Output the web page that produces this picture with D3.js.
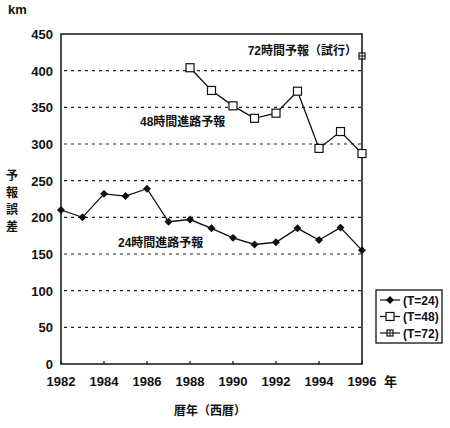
<!DOCTYPE html>
<html lang="ja">
<head>
<meta charset="utf-8">
<title>予報誤差</title>
<script src="https://cdn.jsdelivr.net/npm/d3@7"></script>
<style>
  body { margin: 0; background: #fff; }
  text { font-family: "Liberation Sans", "Noto Sans CJK JP", sans-serif; fill: #111; }
  .tick-label { font-size: 13px; font-weight: bold; }
  .note { font-size: 12px; font-weight: bold; }
  .grid { stroke: #222; stroke-width: 1.2; stroke-dasharray: 3,4; }
</style>
</head>
<body>
<div id="chart"></div>
<script>
var years = d3.range(1982, 1997);
var t24 = [210, 200, 232, 229, 239, 194, 197, 185, 172, 163, 166, 185, 169, 186, 155];
var years48 = d3.range(1988, 1997);
var t48 = [404, 373, 352, 335, 342, 372, 294, 317, 287];
var years72 = [1996];
var t72 = [420];
var yTicks = [0, 50, 100, 150, 200, 250, 300, 350, 400, 450];
var xTicks = [1982, 1984, 1986, 1988, 1990, 1992, 1994, 1996];
var legendLabels = ["(T=24)", "(T=48)", "(T=72)"];

var width = 450, height = 428;
var margin = {left: 61, right: 88, top: 34, bottom: 64};

var svg = d3.select("#chart").append("svg")
    .attr("width", width)
    .attr("height", height);

var x = d3.scaleLinear().domain([1982, 1996]).range([margin.left, width - margin.right]);
var y = d3.scaleLinear().domain([0, 450]).range([height - margin.bottom, margin.top]);

// dashed grid
svg.selectAll(".grid")
  .data(yTicks.filter(function(d) { return d > 0 && d < 450; }))
  .enter().append("line")
    .attr("class", "grid")
    .attr("x1", x(1982) + 3).attr("x2", x(1996))
    .attr("y1", function(d) { return y(d); })
    .attr("y2", function(d) { return y(d); });

// frame
svg.append("rect")
    .attr("x", x(1982)).attr("y", y(450))
    .attr("width", x(1996) - x(1982)).attr("height", y(0) - y(450))
    .attr("fill", "none").attr("stroke", "#111").attr("stroke-width", 1.5);

// x ticks (inward)
svg.selectAll(".xtick")
  .data(xTicks)
  .enter().append("line")
    .attr("x1", function(d) { return x(d); }).attr("x2", function(d) { return x(d); })
    .attr("y1", y(0)).attr("y2", y(0) - 3)
    .attr("stroke", "#111").attr("stroke-width", 1.2);

svg.selectAll(".xlab")
  .data(xTicks)
  .enter().append("text")
    .attr("class", "tick-label")
    .attr("x", function(d) { return x(d); })
    .attr("y", y(0) + 22)
    .attr("text-anchor", "middle")
    .text(function(d) { return d; });

svg.append("text").attr("class", "tick-label")
    .attr("x", x(1996) + 22).attr("y", y(0) + 22)
    .text("年");

svg.selectAll(".ylab")
  .data(yTicks)
  .enter().append("text")
    .attr("class", "tick-label")
    .attr("x", 53)
    .attr("y", function(d) { return y(d) + 5; })
    .attr("text-anchor", "end")
    .text(function(d) { return d; });

svg.append("text").attr("class", "tick-label")
    .attr("x", 8).attr("y", 14).text("km");

// vertical y title
var ytitle = "予報誤差".split("");
svg.selectAll(".ytitle")
  .data(ytitle)
  .enter().append("text")
    .attr("class", "note")
    .attr("x", 12)
    .attr("y", function(d, i) { return 180 + i * 17; })
    .attr("text-anchor", "middle")
    .text(function(d) { return d; });

svg.append("text").attr("class", "note")
    .attr("x", 210).attr("y", 415)
    .attr("text-anchor", "middle")
    .text("暦年（西暦）");

var line = d3.line()
    .x(function(d) { return x(d[0]); })
    .y(function(d) { return y(d[1]); });

var s24 = years.map(function(d, i) { return [d, t24[i]]; });
var s48 = years48.map(function(d, i) { return [d, t48[i]]; });
var s72 = years72.map(function(d, i) { return [d, t72[i]]; });

svg.append("path").datum(s24).attr("d", line)
    .attr("fill", "none").attr("stroke", "#111").attr("stroke-width", 1.3);
svg.append("path").datum(s48).attr("d", line)
    .attr("fill", "none").attr("stroke", "#111").attr("stroke-width", 1.3);

function diamond(g, cx, cy) {
  g.append("path")
    .attr("d", d3.symbol().type(d3.symbolDiamond2).size(40)())
    .attr("transform", "translate(" + cx + "," + cy + ")")
    .attr("fill", "#111");
}
function square(g, cx, cy) {
  g.append("rect")
    .attr("x", cx - 4).attr("y", cy - 4)
    .attr("width", 8).attr("height", 8)
    .attr("fill", "#fff").attr("stroke", "#111").attr("stroke-width", 1.2);
}
function crossSquare(g, cx, cy) {
  g.append("rect")
    .attr("x", cx - 3).attr("y", cy - 3)
    .attr("width", 6).attr("height", 6)
    .attr("fill", "#fff").attr("stroke", "#111").attr("stroke-width", 1.2);
  g.append("line").attr("x1", cx).attr("x2", cx).attr("y1", cy - 3).attr("y2", cy + 3)
    .attr("stroke", "#111").attr("stroke-width", 1);
  g.append("line").attr("x1", cx - 3).attr("x2", cx + 3).attr("y1", cy).attr("y2", cy)
    .attr("stroke", "#111").attr("stroke-width", 1);
}

var marks = svg.append("g");
s24.forEach(function(d) { diamond(marks, x(d[0]), y(d[1])); });
s48.forEach(function(d) { square(marks, x(d[0]), y(d[1])); });
s72.forEach(function(d) { crossSquare(marks, x(d[0]), y(d[1])); });

// annotations
svg.append("text").attr("class", "note")
    .attr("x", 357).attr("y", 55).attr("text-anchor", "end")
    .text("72時間予報（試行）");
svg.append("text").attr("class", "note")
    .attr("x", 140).attr("y", 126)
    .text("48時間進路予報");
svg.append("text").attr("class", "note")
    .attr("x", 118).attr("y", 247)
    .text("24時間進路予報");

// legend
var lg = svg.append("g").attr("transform", "translate(376,290)");
lg.append("rect").attr("width", 66).attr("height", 53)
    .attr("fill", "#fff").attr("stroke", "#111").attr("stroke-width", 1.3);
var markers = [diamond, square, crossSquare];
legendLabels.forEach(function(lbl, i) {
  var cy = 10 + i * 16.5;
  lg.append("line").attr("x1", 4).attr("x2", 24).attr("y1", cy).attr("y2", cy)
    .attr("stroke", "#111").attr("stroke-width", 1.2);
  markers[i](lg, 14, cy);
  lg.append("text").attr("class", "note")
    .attr("x", 27).attr("y", cy + 4.5)
    .text(lbl);
});
</script>
</body>
</html>
